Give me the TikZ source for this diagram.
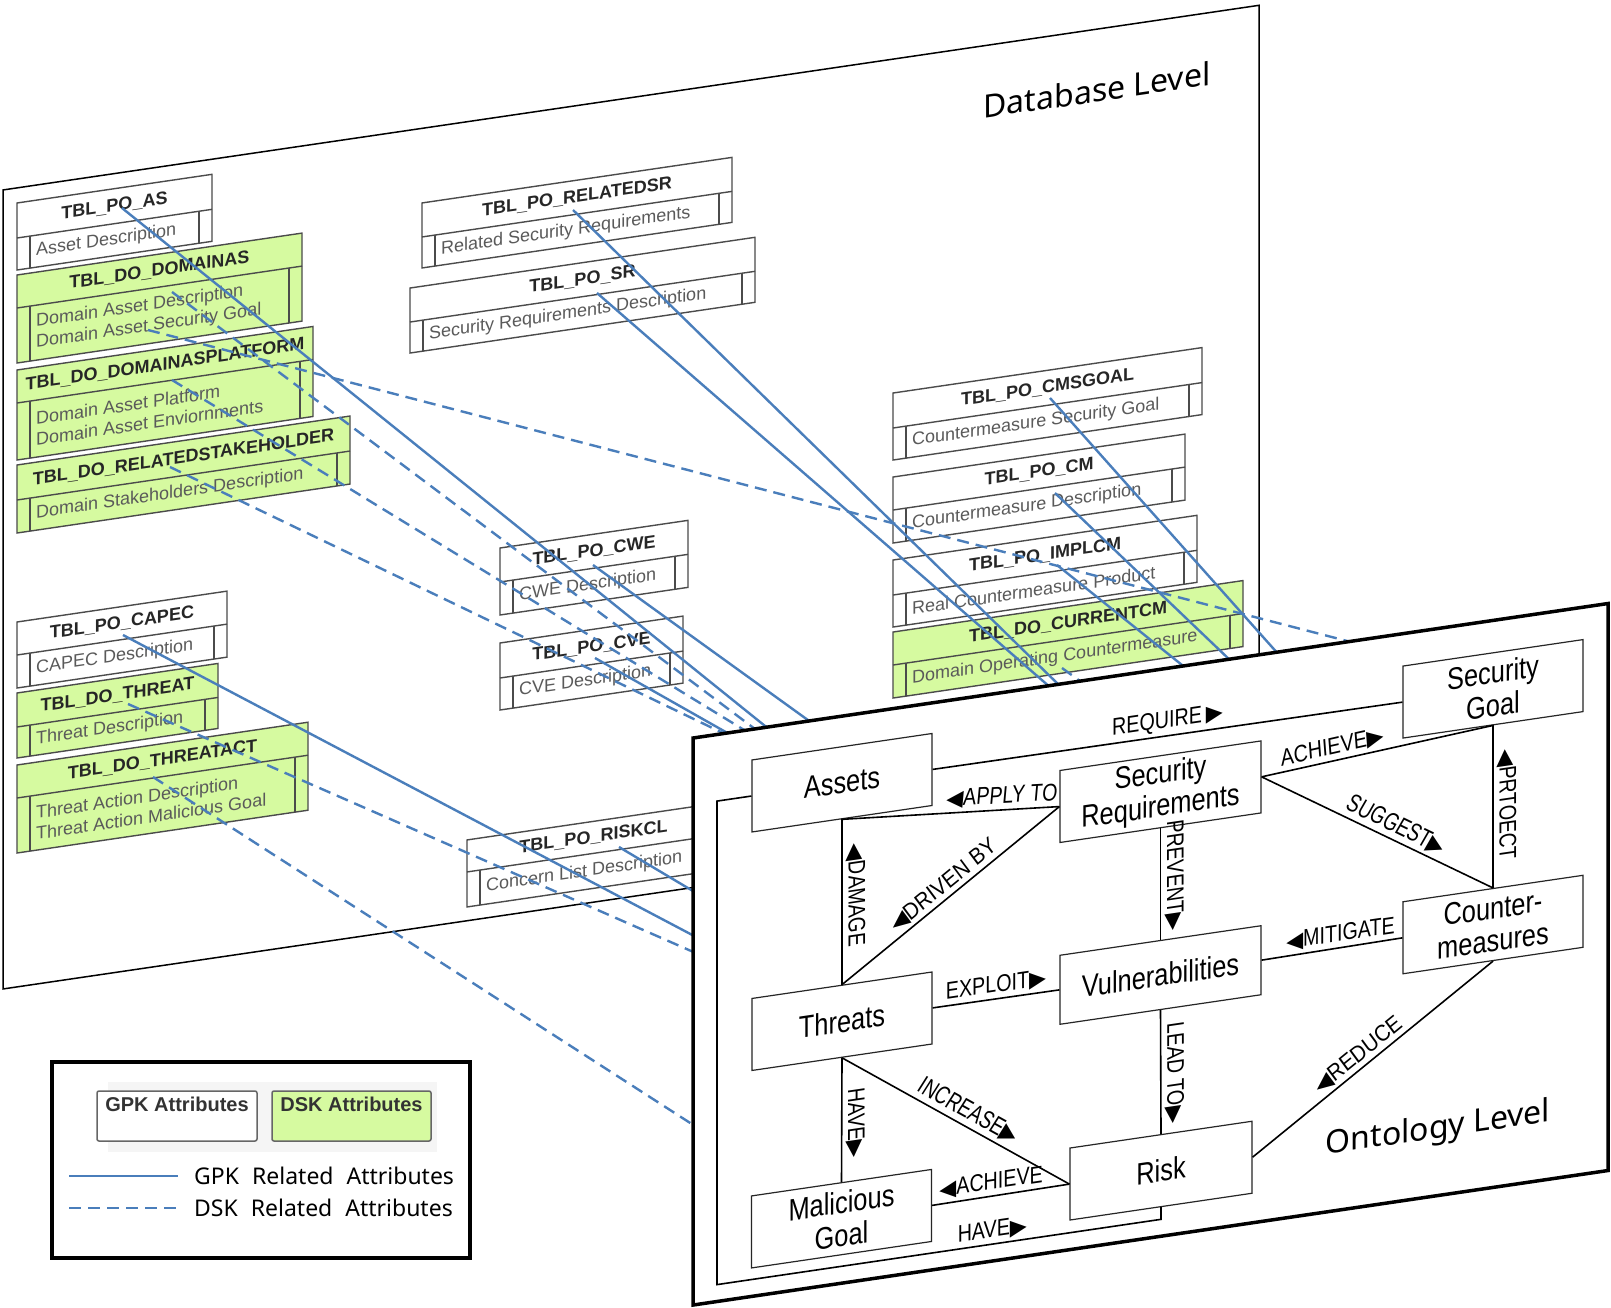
\documentclass[tikz,border=0pt]{standalone}
\usepackage{fontspec}
\setmainfont{Liberation Sans}
\newfontfamily\narrowf{Liberation Sans}[FakeStretch=0.82]
\newfontfamily\symf{DejaVu Sans}
\newfontfamily\notof{Noto Sans}
\definecolor{dskgreen}{RGB}{214,250,160}
\definecolor{lnblue}{RGB}{74,126,187}
\definecolor{tblgray}{RGB}{75,75,75}
\definecolor{txtgray}{RGB}{90,90,90}
\newcommand{\rtri}{{\symf\fontsize{22}{22}\selectfont ▶}}
\newcommand{\ltri}{{\symf\fontsize{22}{22}\selectfont ◀}}
\newcommand{\dbtable}[9]{%
  \draw[tblline, fill=#7] (#2,#4) rectangle (#3,#6);
  \draw[tblline] (#2,#5) -- (#3,#5);
  \draw[tblline] (#2+13,#5) -- (#2+13,#6);
  \draw[tblline] (#3-13,#5) -- (#3-13,#6);
  \node[hdrtext] (#1) at ({(#2+#3)/2},{(#4+#5)/2}) {#8};
  \node[bodytext] (#1-b) at ({#2+19},{(#5+#6)/2}) {#9};
}
\begin{document}
\begin{tikzpicture}[x=1pt,y=-1pt,
  tblline/.style={draw=tblgray, line width=1.4pt},
  hdrtext/.style={font=\bfseries\fontsize{18}{20}\selectfont, text=black!85, inner sep=0pt},
  bodytext/.style={anchor=west, font=\fontsize{18}{21}\selectfont, text=txtgray, align=left, inner sep=0pt},
  gpk/.style={draw=lnblue, line width=2.4pt},
  dsk/.style={gpk, dash pattern=on 12pt off 7pt},
  onode/.style={draw=black!85, line width=1.2pt, fill=white, minimum width=180pt, minimum height=72pt, inner sep=0pt, align=center, font=\narrowf\fontsize{31}{33}\selectfont},
  lab/.style={font=\narrowf\fontsize{24}{24}\selectfont, inner sep=3pt},
  con/.style={draw=black, line width=1.6pt},
  lgbox/.style={draw=black!60, line width=1.5pt, rounded corners=2pt, minimum width=160pt, minimum height=50pt},
  lgtext/.style={font=\bfseries\fontsize{20}{20}\selectfont, text=black!80, inner sep=0pt}
]
\useasboundingbox (0,0) rectangle (1611,1308);

% ---------------- Database level ----------------
\begin{scope}[yslant=0.147, transform shape]
  \draw[line width=1.5pt, fill=white] (3,190.4) rectangle (1259,989.4);
  \dbtable{tAS}{17}{212}{205.5}{240.5}{272.5}{white}{TBL\_PO\_AS}{Asset Description}
  \dbtable{tDOMAINAS}{17}{302}{277.5}{310.5}{365.5}{dskgreen}{TBL\_DO\_DOMAINAS}{Domain Asset Description\\Domain Asset Security Goal}
  \dbtable{tPLAT}{17}{313}{372.5}{405.5}{462.5}{dskgreen}{TBL\_DO\_DOMAINASPLATFORM}{Domain Asset Platform\\Domain Asset Enviornments}
  \dbtable{tSTAKE}{17}{350}{467.5}{502.5}{535.5}{dskgreen}{TBL\_DO\_RELATEDSTAKEHOLDER}{Domain Stakeholders Description}
  \dbtable{tRELSR}{422}{732}{265}{299}{330}{white}{TBL\_PO\_RELATEDSR}{Related Security Requirements}
  \dbtable{tSR}{410}{755}{348.3}{382.3}{413.3}{white}{TBL\_PO\_SR}{Security Requirements Description}
  \dbtable{tCMSGOAL}{893}{1202}{524.3}{559.3}{591.3}{white}{TBL\_PO\_CMSGOAL}{Countermeasure Security Goal}
  \dbtable{tCM}{893}{1185}{608.3}{641.3}{674.3}{white}{TBL\_PO\_CM}{Countermeasure Description}
  \dbtable{tIMPLCM}{893}{1197}{691.3}{726.3}{758.3}{white}{TBL\_PO\_IMPLCM}{Real Countermeasure Product}
  \dbtable{tCURCM}{893}{1243}{763.3}{796.3}{829.3}{dskgreen}{TBL\_DO\_CURRENTCM}{Domain Operating Countermeasure}
  \dbtable{tCAPEC}{17}{227}{624.5}{657.5}{690.5}{white}{TBL\_PO\_CAPEC}{CAPEC Description}
  \dbtable{tTHREAT}{17}{218}{695.5}{729.5}{760.5}{dskgreen}{TBL\_DO\_THREAT}{Threat Description}
  \dbtable{tTACT}{17}{308}{767.5}{800.5}{855.5}{dskgreen}{TBL\_DO\_THREATACT}{Threat Action Description\\Threat Action Malicious Goal}
  \dbtable{tCWE}{500}{688}{621.5}{655.5}{688.5}{white}{TBL\_PO\_CWE}{CWE Description}
  \dbtable{tCVE}{500}{683}{716.5}{751.5}{783.5}{white}{TBL\_PO\_CVE}{CVE Description}
  \dbtable{tRISKCL}{467}{720}{908.6}{940.6}{975.6}{white}{TBL\_PO\_RISKCL}{Concern List Description}
  \node[font=\notof\fontsize{32}{32}\selectfont] (dblevel) at (1097,251) {Database Level};
\end{scope}

% ---------------- Relation lines ----------------
\coordinate (aAS) at (122,208);      \coordinate (eAS) at (770,730);
\coordinate (aRELSR) at (573,210);   \coordinate (eRELSR) at (1061,687);
\coordinate (aSR) at (597,293);      \coordinate (eSR) at (1051,688);
\coordinate (aCWE) at (593,565);     \coordinate (eCWE) at (812,723);
\coordinate (aCVE) at (595,658);     \coordinate (eCVE) at (731,735);
\coordinate (aCMSG) at (1050,398);   \coordinate (eCMSG) at (1280,656);
\coordinate (aCM) at (1055,493);     \coordinate (eCM) at (1232,662);
\coordinate (aIMPL) at (1057,565);   \coordinate (eIMPL) at (1187,669);
\coordinate (aCAPEC) at (123,635);   \coordinate (eCAPEC) at (698,938);
\coordinate (aRISKCL) at (619,847);  \coordinate (eRISKCL) at (698,894);
\coordinate (aDOM) at (172,292);     \coordinate (eDOM) at (759,732);
\coordinate (aDOM2) at (148,330);    \coordinate (eDOM2) at (1351,642);
\coordinate (aPLAT) at (172,380);    \coordinate (ePLAT) at (749,733);
\coordinate (aSTAKE) at (170,467);   \coordinate (eSTAKE) at (727,735);
\coordinate (aTHR) at (128,704);     \coordinate (eTHR) at (698,954);
\coordinate (aTACT) at (153,777);    \coordinate (eTACT) at (698,1128);
\coordinate (aCUR) at (1062,668);    \coordinate (eCUR) at (1084,684);

\draw[gpk] (aAS) -- (eAS);
\draw[gpk] (aRELSR) -- (eRELSR);
\draw[gpk] (aSR) -- (eSR);
\draw[gpk] (aCWE) -- (eCWE);
\draw[gpk] (aCVE) -- (eCVE);
\draw[gpk] (aCMSG) -- (eCMSG);
\draw[gpk] (aCM) -- (eCM);
\draw[gpk] (aIMPL) -- (eIMPL);
\draw[gpk] (aCAPEC) -- (eCAPEC);
\draw[gpk] (aRISKCL) -- (eRISKCL);
\draw[dsk] (aDOM) -- (eDOM);
\draw[dsk] (aDOM2) -- (eDOM2);
\draw[dsk] (aPLAT) -- (ePLAT);
\draw[dsk] (aSTAKE) -- (eSTAKE);
\draw[dsk] (aTHR) -- (eTHR);
\draw[dsk] (aTACT) -- (eTACT);
\draw[dsk] (aCUR) -- (eCUR);

% ---------------- Ontology level ----------------
\begin{scope}[yslant=0.147, transform shape]
  \draw[line width=3.5pt, fill=white] (693,839.9) rectangle (1608,1406.9);
  \node[onode] (Assets) at (842,906.5) {Assets};
  \node[onode, minimum width=201pt] (SReq) at (1160.5,962.3) {Security\\Requirements};
  \node[onode] (SGoal) at (1493,908.3) {Security\\Goal};
  \node[onode] (Threats) at (842,1145) {Threats};
  \node[onode, minimum width=201pt, minimum height=69pt] (Vuln) at (1160.5,1145.6) {Vulnerabilities};
  \node[onode] (CMeas) at (1493,1144) {Counter-\\measures};
  \node[onode] (MGoal) at (841.5,1342.4) {Malicious\\Goal};
  \node[onode, minimum width=182pt] (Risk) at (1161,1341.3) {Risk};

  \draw[con] (Assets.east) -- node[lab, above] {REQUIRE\,\rtri} (SGoal.west);
  \draw[con] (Assets.south) -- node[lab, pos=0.73, rotate=-5.2, above] {\ltri APPLY TO} (SReq.west);
  \draw[con] (Assets.south) -- node[lab, pos=0.47, rotate=-90, above] {\ltri DAMAGE} (Threats.north);
  \draw[con] (Threats.north) -- node[lab, pos=0.5, rotate=33.9, above] {\ltri DRIVEN BY} (SReq.west);
  \draw[con] (SReq.east) -- node[lab, pos=0.31, rotate=4.4, above] {ACHIEVE\rtri} (SGoal.south);
  \draw[con] (SReq.east) -- node[lab, pos=0.55, rotate=-32.2, above] {SUGGEST\rtri} (CMeas.north);
  \draw[con] (SGoal.south) -- node[lab, pos=0.5, rotate=-90, above] {\ltri PRTOECT} (CMeas.north);
  \draw[con] (SReq.south) -- node[lab, pos=0.44, rotate=-90, above] {PREVENT\rtri} (Vuln.north);
  \draw[con] (Vuln.east) -- node[lab, pos=0.56, above] {\ltri MITIGATE} (CMeas.west);
  \draw[con] (Threats.east) -- node[lab, pos=0.5, above] {EXPLOIT\rtri} (Vuln.west);
  \draw[con] (Vuln.south) -- node[lab, pos=0.52, rotate=-90, above] {LEAD TO\rtri} (Risk.north);
  \draw[con] (Risk.east) -- node[lab, pos=0.47, rotate=33.7, above] {\ltri REDUCE} (CMeas.south);
  \draw[con] (Threats.south) -- node[lab, pos=0.54, rotate=-90, above] {HAVE\rtri} (MGoal.north);
  \draw[con] (Threats.south) -- node[lab, pos=0.52, rotate=-35, above] {INCREASE\rtri} (Risk.west);
  \draw[con] (MGoal.east) -- node[lab, pos=0.43, above] {\ltri ACHIEVE} (Risk.west);
  \draw[con] (Assets.west) -- (717,906.5) -- (717,1390) -- node[lab, pos=0.62, above] {HAVE\rtri} (1161,1390) -- (Risk.south);

  \node[font=\notof\fontsize{32}{32}\selectfont] (ontlevel) at (1438,1341) {Ontology Level};
\end{scope}

% ---------------- Legend ----------------
\draw[line width=3.5pt, fill=white] (52,1062) rectangle (470,1258);
\fill[black!4] (108,1082) rectangle (437,1152);
\node[lgbox, fill=white] (lgGPK) at (177,1116) {};
\node[lgbox, fill=dskgreen, minimum width=159pt] (lgDSK) at (351.5,1116) {};
\node[lgtext, anchor=north] (lgGPKt) at ([yshift=-7pt]lgGPK.north) {GPK Attributes};
\node[lgtext, anchor=north] (lgDSKt) at ([yshift=-7pt]lgDSK.north) {DSK Attributes};
\coordinate (lgA1) at (69,1176); \coordinate (lgA2) at (178,1176);
\coordinate (lgB1) at (69,1208); \coordinate (lgB2) at (178,1208);
\draw[gpk] (lgA1) -- (lgA2);
\draw[dsk] (lgB1) -- (lgB2);
\node[anchor=west, inner sep=0pt, font=\notof\fontsize{23}{23}\selectfont] (lgT1) at (194,1176) {GPK\hspace{13pt}Related\hspace{13pt}Attributes};
\node[anchor=west, inner sep=0pt, font=\notof\fontsize{23}{23}\selectfont] (lgT2) at (194,1208) {DSK\hspace{13pt}Related\hspace{13pt}Attributes};
\end{tikzpicture}
\end{document}
